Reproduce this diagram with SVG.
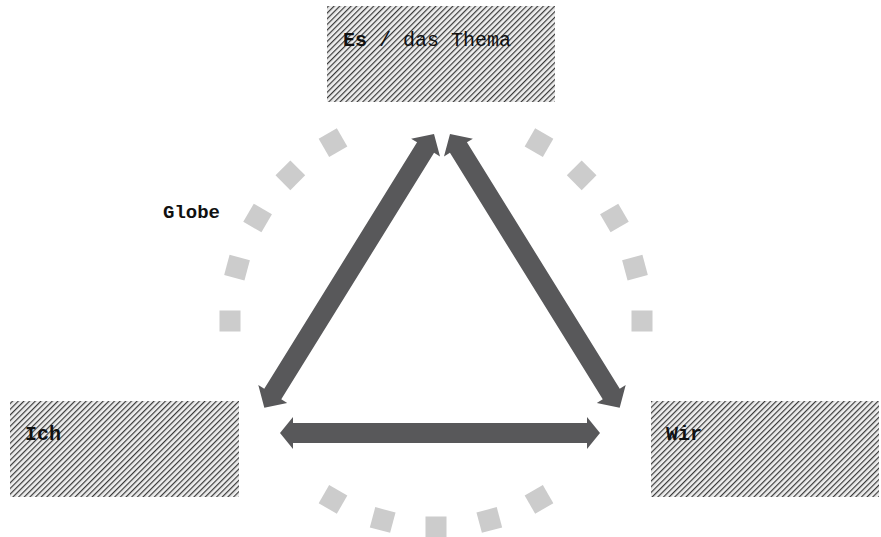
<svg xmlns="http://www.w3.org/2000/svg" xmlns:xlink="http://www.w3.org/1999/xlink" width="881" height="537" viewBox="0 0 881 537">
  <style>
    .box { fill: url(#hatch); }
    .lbl { font-family: "Liberation Mono", "DejaVu Sans Mono", monospace; font-size: 20px; fill: #111; }
    .b { font-weight: bold; }
    .arrow { fill: #58585a; }
    .dash { fill: #cccccc; }
  </style>
  <defs>
    <pattern id="hatch" width="4" height="4" patternUnits="userSpaceOnUse" patternTransform="rotate(45)">
      <rect width="4" height="4" fill="#eeeeee"/>
      <rect x="0" y="0" width="1.2" height="4" fill="#3a3a3a"/>
    </pattern>
    <rect id="dash" class="dash" x="-10.5" y="-10.5" width="21" height="21"/>
  </defs>
  <rect width="881" height="537" fill="#ffffff"/>

  <!-- dashed globe ring around the triangle -->
  <g id="globe">
    <use href="#dash" transform="rotate(0 436 321) translate(642 321)"/>
    <use href="#dash" transform="rotate(-15 436 321) translate(642 321)"/>
    <use href="#dash" transform="rotate(-30 436 321) translate(642 321)"/>
    <use href="#dash" transform="rotate(-45 436 321) translate(642 321)"/>
    <use href="#dash" transform="rotate(-60 436 321) translate(642 321)"/>
    <use href="#dash" transform="rotate(-120 436 321) translate(642 321)"/>
    <use href="#dash" transform="rotate(-135 436 321) translate(642 321)"/>
    <use href="#dash" transform="rotate(-150 436 321) translate(642 321)"/>
    <use href="#dash" transform="rotate(-165 436 321) translate(642 321)"/>
    <use href="#dash" transform="rotate(180 436 321) translate(642 321)"/>
    <use href="#dash" transform="rotate(60 436 321) translate(642 321)"/>
    <use href="#dash" transform="rotate(75 436 321) translate(642 321)"/>
    <use href="#dash" transform="rotate(90 436 321) translate(642 321)"/>
    <use href="#dash" transform="rotate(105 436 321) translate(642 321)"/>
    <use href="#dash" transform="rotate(120 436 321) translate(642 321)"/>
    <text class="lbl" x="163" y="218" style="font-size:19px;font-weight:600">Globe</text>
  </g>

  <!-- nodes -->
  <g id="node-es">
    <rect class="box" x="327" y="6" width="228" height="96"/>
    <text class="lbl" x="343" y="46"><tspan class="b">Es</tspan> / das Thema</text>
  </g>
  <g id="node-ich">
    <rect class="box" x="10" y="401" width="229" height="96"/>
    <text class="lbl b" x="25" y="440">Ich</text>
  </g>
  <g id="node-wir">
    <rect class="box" x="651" y="401" width="228" height="96"/>
    <text class="lbl b" x="666" y="440">Wir</text>
  </g>

  <!-- double-headed connectors -->
  <g id="connectors">
    <polygon class="arrow" transform="translate(434 134) rotate(121.8)" points="0,0 16,-17 16,-10 306,-10 306,-17 322,0 306,17 306,10 16,10 16,17"/>
    <polygon class="arrow" transform="translate(450 134) rotate(58.2)" points="0,0 16,-17 16,-10 306,-10 306,-17 322,0 306,17 306,10 16,10 16,17"/>
    <polygon class="arrow" transform="translate(280 433)" points="0,0 13,-16 13,-10 307,-10 307,-16 320,0 307,16 307,10 13,10 13,16"/>
  </g>
</svg>
